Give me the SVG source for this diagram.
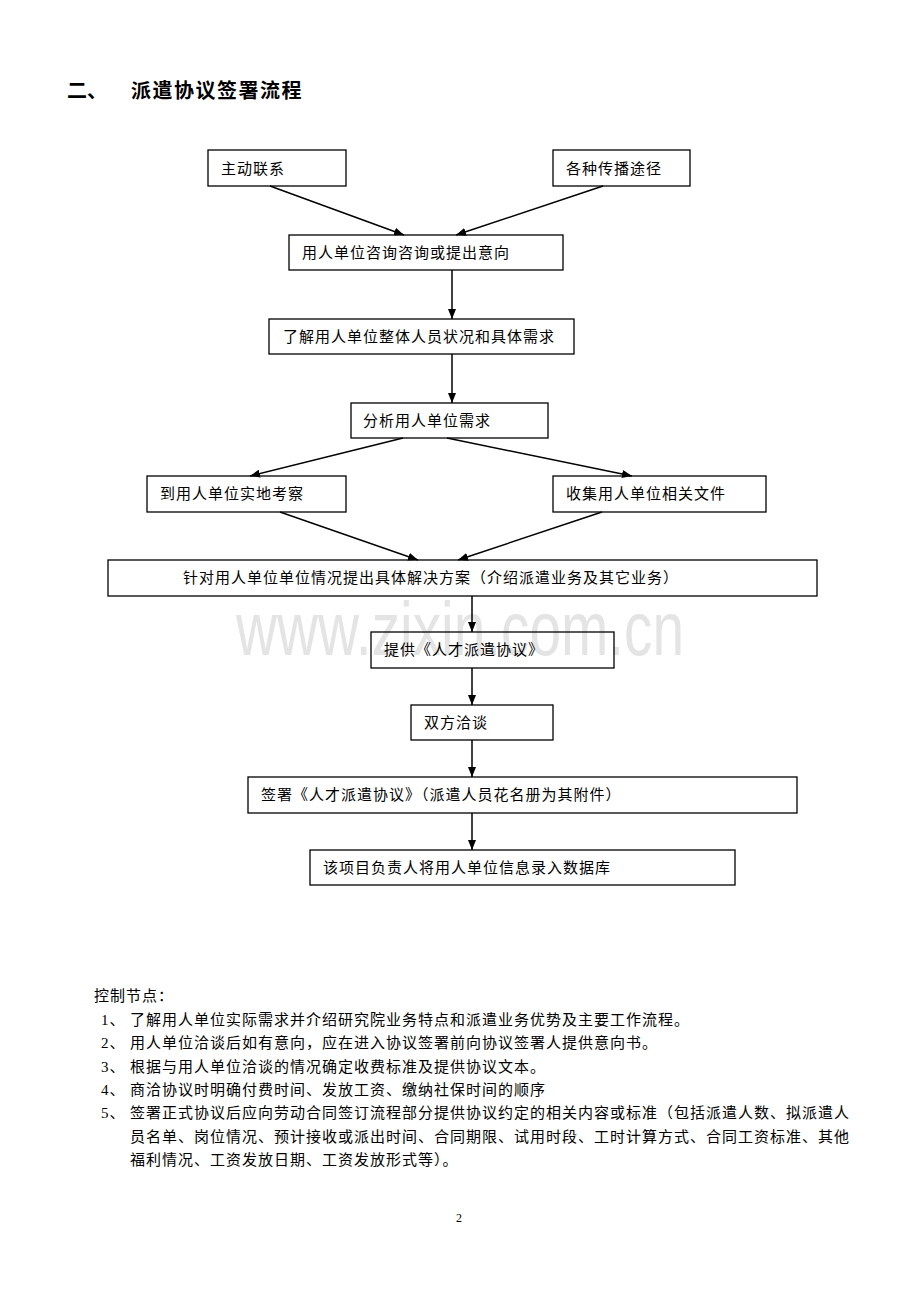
<svg xmlns="http://www.w3.org/2000/svg" width="920" height="1302" viewBox="0 0 920 1302">
<defs>
<marker id="ah" viewBox="0 0 10 8" refX="10" refY="4" markerWidth="10" markerHeight="8" markerUnits="userSpaceOnUse" orient="auto">
<path d="M0,0 L10,4 L0,8 Z" fill="#000"/>
</marker>
<style>
.box{fill:none;stroke:#000;stroke-width:1.3}
.t{font-family:"Liberation Serif","Noto Sans CJK SC",serif;font-size:15px;letter-spacing:1px;fill:#000}
.b{font-family:"Liberation Serif","Noto Sans CJK SC",serif;font-size:15px;letter-spacing:1px;fill:#000}
.title{font-family:"Liberation Sans","Noto Sans CJK SC",sans-serif;font-size:20px;font-weight:bold;fill:#000}
.wm{font-family:"Liberation Sans",sans-serif;font-size:76px;fill:#e4e4e4}
#connectors line{stroke:#000;stroke-width:1.5;marker-end:url(#ah)}
</style>
</defs>
<rect width="920" height="1302" fill="#fff"/>
<text class="wm" x="236" y="655" textLength="448" lengthAdjust="spacingAndGlyphs">www.zixin.com.cn</text>
<g id="title">
<text class="title" x="67" y="98">二、</text>
<text class="title" x="131" y="98" letter-spacing="1.5">派遣协议签署流程</text>
</g>
<g id="n1"><rect class="box" x="208" y="150" width="138" height="36"/><text class="t" x="221" y="174">主动联系</text></g>
<g id="n2"><rect class="box" x="553" y="150" width="137" height="36"/><text class="t" x="566" y="174">各种传播途径</text></g>
<g id="n3"><rect class="box" x="289" y="235" width="274" height="35"/><text class="t" x="302" y="258">用人单位咨询咨询或提出意向</text></g>
<g id="n4"><rect class="box" x="269" y="319" width="305" height="35"/><text class="t" x="283" y="342">了解用人单位整体人员状况和具体需求</text></g>
<g id="n5"><rect class="box" x="351" y="403" width="197" height="35"/><text class="t" x="363" y="426">分析用人单位需求</text></g>
<g id="n6"><rect class="box" x="147" y="476" width="199" height="36"/><text class="t" x="160" y="499">到用人单位实地考察</text></g>
<g id="n7"><rect class="box" x="553" y="476" width="213" height="36"/><text class="t" x="566" y="499">收集用人单位相关文件</text></g>
<g id="n8"><rect class="box" x="108" y="560" width="709" height="36"/><text class="t" x="183" y="583">针对用人单位单位情况提出具体解决方案（介绍派遣业务及其它业务）</text></g>
<g id="n9"><rect class="box" x="371" y="632" width="243" height="36"/><text class="t" x="384" y="655">提供《人才派遣协议》</text></g>
<g id="n10"><rect class="box" x="411" y="705" width="142" height="35"/><text class="t" x="424" y="728">双方洽谈</text></g>
<g id="n11"><rect class="box" x="248" y="777" width="549" height="36"/><text class="t" x="261" y="800">签署《人才派遣协议》（派遣人员花名册为其附件）</text></g>
<g id="n12"><rect class="box" x="310" y="850" width="425" height="35"/><text class="t" x="323" y="873">该项目负责人将用人单位信息录入数据库</text></g>
<g id="connectors">
<line x1="270" y1="186" x2="404" y2="235"/>
<line x1="603" y1="186" x2="456" y2="235"/>
<line x1="452" y1="270" x2="452" y2="319"/>
<line x1="452" y1="354" x2="452" y2="403"/>
<line x1="403" y1="438" x2="250" y2="476"/>
<line x1="447" y1="438" x2="632" y2="476"/>
<line x1="280" y1="512" x2="418" y2="560"/>
<line x1="602" y1="512" x2="458" y2="560"/>
<line x1="472" y1="596" x2="472" y2="632"/>
<line x1="472" y1="668" x2="472" y2="705"/>
<line x1="472" y1="740" x2="472" y2="777"/>
<line x1="472" y1="813" x2="472" y2="850"/>
</g>
<g id="notes">
<text class="b" x="94" y="1001">控制节点：</text>
<text class="b" x="101" y="1025">1、</text><text class="b" x="130" y="1025">了解用人单位实际需求并介绍研究院业务特点和派遣业务优势及主要工作流程。</text>
<text class="b" x="101" y="1048">2、</text><text class="b" x="130" y="1048">用人单位洽谈后如有意向，应在进入协议签署前向协议签署人提供意向书。</text>
<text class="b" x="101" y="1072">3、</text><text class="b" x="130" y="1072">根据与用人单位洽谈的情况确定收费标准及提供协议文本。</text>
<text class="b" x="101" y="1095">4、</text><text class="b" x="130" y="1095">商洽协议时明确付费时间、发放工资、缴纳社保时间的顺序</text>
<text class="b" x="101" y="1118">5、</text><text class="b" x="130" y="1118">签署正式协议后应向劳动合同签订流程部分提供协议约定的相关内容或标准（包括派遣人数、拟派遣人</text>
<text class="b" x="130" y="1142">员名单、岗位情况、预计接收或派出时间、合同期限、试用时段、工时计算方式、合同工资标准、其他</text>
<text class="b" x="130" y="1165">福利情况、工资发放日期、工资发放形式等）。</text>
<text class="b" x="456" y="1222" style="font-size:12px">2</text>
</g>
</svg>
